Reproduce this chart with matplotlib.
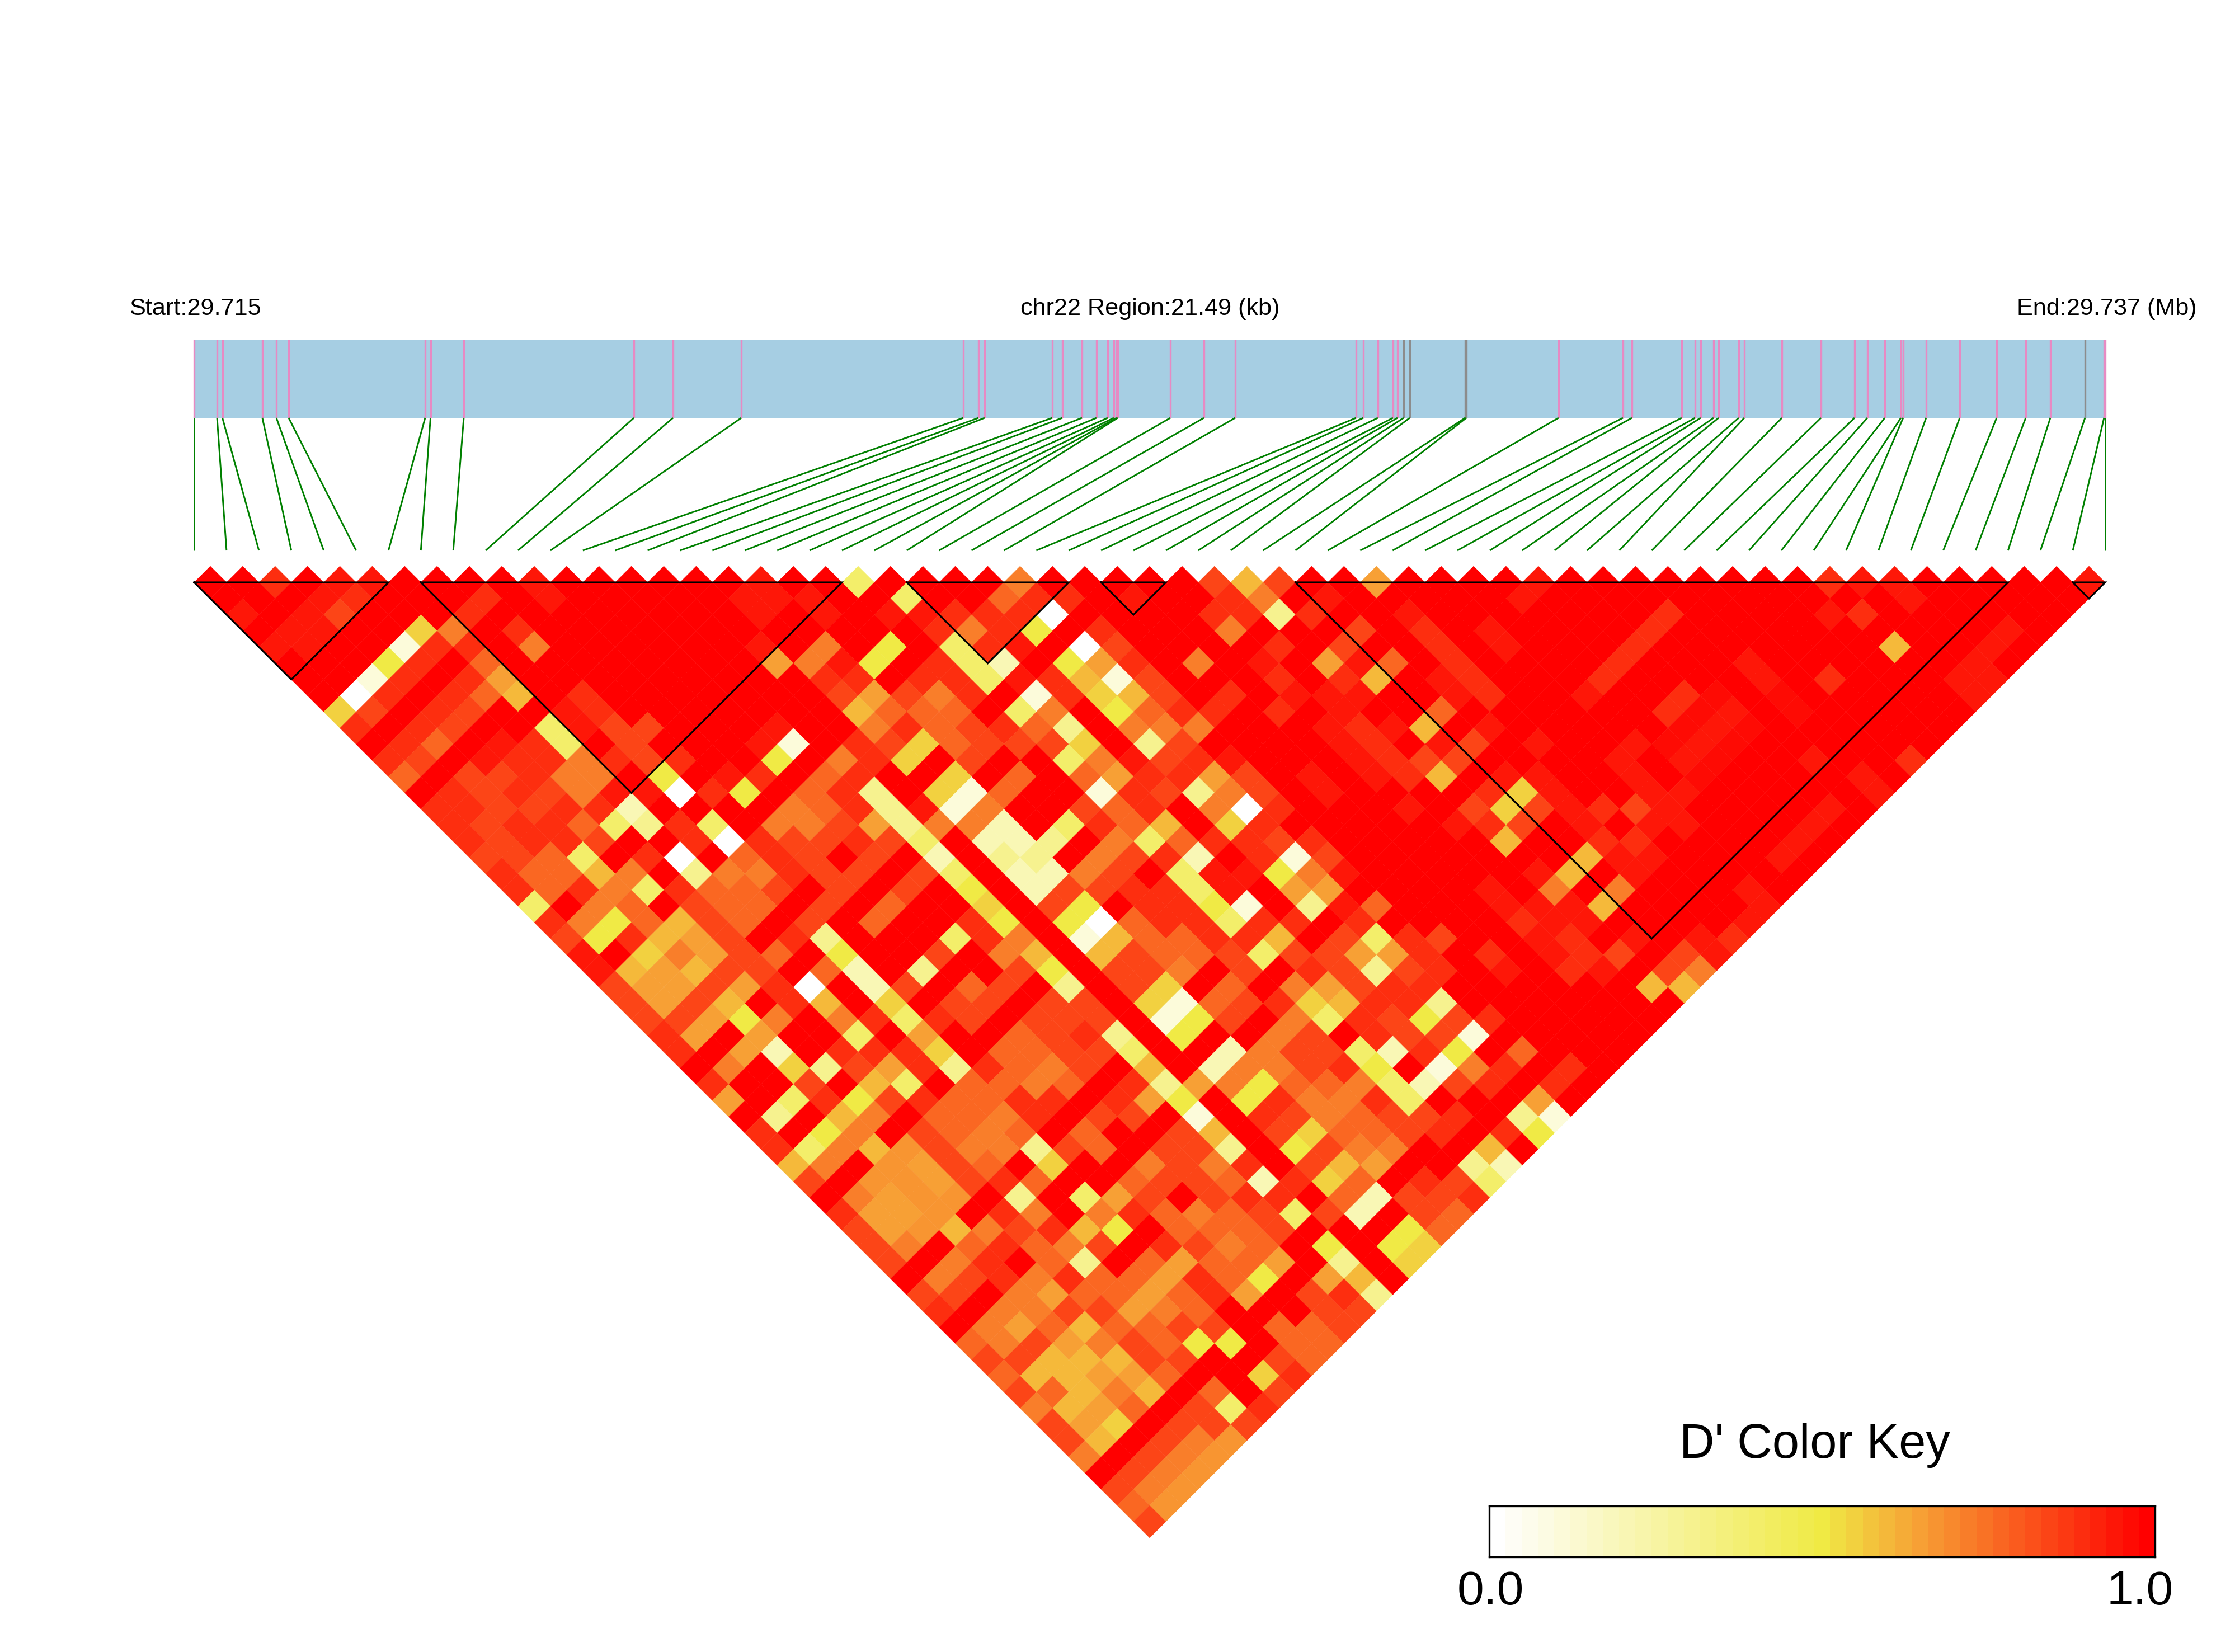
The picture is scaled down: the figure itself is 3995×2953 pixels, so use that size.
import numpy as np
import matplotlib
matplotlib.use("Agg")
import matplotlib.pyplot as plt
from matplotlib.collections import PolyCollection
from matplotlib.colors import LinearSegmentedColormap

plt.rcParams['font.family'] = ['Liberation Sans', 'DejaVu Sans']

# SNP positions, kb from region start
snp_pos_kb = [0, .258, .318, .767, .925, 1.063, 2.598, 2.658, 3.032, 4.945,
              5.385, 6.153, 8.65, 8.82, 8.889, 9.65, 9.763, 9.984, 10.147, 10.273,
              10.342, 10.374, 10.386, 10.978, 11.355, 11.707, 13.066, 13.148, 13.311, 13.481,
              13.532, 13.601, 13.67, 14.293, 14.306, 15.343, 16.067, 16.168, 16.727, 16.878,
              16.941, 17.086, 17.143, 17.369, 17.432, 17.854, 18.294, 18.671, 18.816, 19.011,
              19.193, 19.218, 19.476, 19.854, 20.269, 20.596, 20.873, 21.263, 21.477, 21.49]
region_kb = 21.49
grey_snps = [31, 32, 33, 34, 57]

# LD blocks, first and last SNP
blocks = [(0, 6), (7, 20), (22, 27), (28, 30), (34, 56), (58, 59)]

# D' per letter
dprime = {'R': 1.0, 'q': .975, 'r': .95, 'o': .9, 'n': .84, 'm': .78, 'l': .72, 'p': .68, 'k': .65,
          'j': .6, 'i': .55, 'h': .5, 'g': .4, 'f': .3, 'e': .2, 'd': .1, 'c': 0.0}

# one string per SNP distance (1, 2, ... 59), one letter per pair
d_rows = [
    "RRoRrrRRRR" "rRRRRRRrRR" "gRRRRlRRRR" "RnjnRRkRRR" "RrRRRRRRRR" "orrRRRRRr",
    "RRRroRRRoR" "rRRRRRrrrR" "RgRRmooRrR" "RolRrRRRRR" "rRRRRRRRRR" "RRrRRRRR",
    "rRrnRRRoRR" "RRRRRRrRrR" "rrooocRRRR" "oofoRRrRRR" "RRRRoRRRRr" "oRRRRRR",
    "RrrRRilRoR" "RRRRRRRRRR" "RolohRoRRR" "lRRRnRoRrR" "RRRoRRRRRR" "RRRRrR",
    "rrRRdooRlR" "RRRRRrRlRh" "RgorRcnRRR" "RoRnRRoRrR" "RRoRRRRRRR" "jRRrR",
    "RRRhoRmRRR" "RRRRRklrhR" "ogeRhkoRlR" "rRkrmRoRRR" "RoRRRrRRRR" "RRrR",
    "RRdoRokRRR" "RRRRRRooRo" "ogrojdnRRR" "oRojRroRRR" "oRRRRrRoRR" "Rrr",
    "RcoRomjRoR" "RRRRRRnknl" "oRdoijnRoR" "rrrRRroRRr" "RRoqRqRRRR" "Rr",
    "inRonRRroR" "RRRRRRjmmm" "RglRhmooRo" "RrRRmRRRRR" "RoqrRqRRRR" "R",
    "oRonRRgrnn" "RRRrRRlomn" "omfRlllRRR" "rorjRrRRRR" "RqrqRRRRRR",
    "RomRrogRnR" "RRrdRonimn" "nniRfnRRRR" "roRrnRrRRr" "qrqRRRRRR",
    "onRroolono" "RRhRloiRnR" "RglrnorRRR" "ronnRRRRrR" "rqRRrRRo",
    "mRnnollRhR" "roRmoRRiRm" "RmkooknRrR" "rojRrrRRrR" "qRRRRrR",
    "Rononlrrco" "hRmofRidmR" "RdonflnRrR" "RRRoirRRrr" "RRRRRr",
    "oonnooeRRR" "RlmofrdlRR" "nmoRlcoRRR" "rRninronrR" "RRRrR",
    "onoomgfogR" "llnkflleRg" "omjRioRRRR" "RronRrRrrR" "RRrR",
    "onoonRRoco" "nnongReefR" "lgmoonoRRR" "RRjRRooRRR" "RrR",
    "nnmgRocRmo" "nRnReRffRl" "noeRodnRRR" "RRRRjrrRRR" "rR",
    "ommjlRfllo" "nnRngReeln" "RgrrhlrRRR" "RRrjRrRRRRR",
    "omolgommnR" "nRnRhRenno" "ogrRkkRRRR" "rRlRlRRRrR",
    "gRlmRnmmRn" "RmRRiRnhRo" "ohdRfrmRRR" "rrrjRRRRr",
    "olhmjnmRnR" "mRRohRhcmo" "ogooRoRRRR" "orrRRRRr",
    "nhojknRofR" "RRgolRdjmm" "oojRngonRR" "roRrRro",
    "rRilknmRhR" "RnRljRjnmm" "ngnnkkoRoR" "ronRnr",
    "rjkjnnRmeR" "fRRnhRnnlR" "nRonfnoRrR" "orRnl",
    "nkknkocRen" "RmnRfRniRm" "RlknooRRRR" "RRjj",
    "nknjRojRiR" "nnRnnRidmn" "oijoofRRRR" "RRR",
    "nnkhlRlogo" "nRnnnRdhnR" "lgonhnoRRR" "RR",
    "okRkRRgRkR" "RmnofRhRRl" "nRonndRRRR" "R",
    "oRkeRoooiR" "mmnngRReln" "ngeohRmRRR",
    "RlRifnkofo" "mlnRjRelln" "ohRdloRoR",
    "oRRnRjgRmm" "lmRofklhmm" "lgenoRoR",
    "kRgohnommo" "oRokhRholl" "ogRRRkR",
    "RfRjlRmmlo" "RnnRdRonlm" "nnoRfd",
    "oRhlRnmlmR" "mRRnjRnimm" "noRoh",
    "ogljpnllf" "nmRnnfRhnllRRjR",
    "jlRpknmRi" "RRlnloRnjkRRfe",
    "nRppknom" "RRmnnmeoimRong",
    "RlkppRfR" "gknRnooRmenno",
    "okkpRol" "RlomlmngneRnm",
    "nkpjlno" "jhRmmmnRRRhm",
    "nlRmom" "lnRonlmRhRhi",
    "nRloRm" "fRmkmmkRfRi",
    "Rlnol" "ommkomhRkjR",
    "nnRlkmmkmo" "kRnof",
    "oRllnnklmR" "RRnn",
    "Rlkmjmmnn" "Rmmn",
    "mlnklnmh" "hRmm",
    "nnjjjnnRRnm",
    "mjjkkmRRio",
    "nmjljRmRn",
    "ljkmRngo",
    "nkiRnnn",
    "njRnlp",
    "lRnlp",
    "Rnlp",
    "nlp",
    "mp",
    "n",
]

W, H = 3995, 2953
n_snp = len(snp_pos_kb)
x0, x1 = 347, 3763
step = (x1 - x0) / (n_snp - 1)
top_y = 1041

cmap = LinearSegmentedColormap.from_list(
    "dkey", [(0, "#FFFFFF"), (.5, "#F0EA45"), (.65, "#F7A035"), (1, "#FF0000")]).resampled(41)

fig = plt.figure(figsize=(W / 300, H / 300), dpi=300)
ax = fig.add_axes([0, 0, 1, 1])
ax.set_xlim(0, W)
ax.set_ylim(H, 0)
ax.axis("off")

polys, vals = [], []
for k, row in enumerate(d_rows, start=1):
    assert len(row) == n_snp - k, (k, len(row))
    for i, code in enumerate(row):
        cx = x0 + (i + k / 2) * step
        cy = top_y + (k - 1) * step / 2
        polys.append([(cx - step / 2, cy), (cx, cy - step / 2), (cx + step / 2, cy), (cx, cy + step / 2)])
        vals.append(dprime[code])
pc = PolyCollection(polys, array=np.array(vals), cmap=cmap, clim=(0, 1), edgecolors="face", linewidths=0.1)
ax.add_collection(pc)

# blocks
for a, b in blocks:
    xa = x0 + a * step
    xb = x0 + b * step
    ax.plot([xa, xb, (xa + xb) / 2, xa], [top_y, top_y, top_y + (b - a) * step / 2, top_y],
            color="black", lw=0.75, solid_joinstyle="miter", zorder=3)

# gene bar and SNP links
bar_top, bar_bot, link_bot = 607, 747, 984
ax.fill_between([x0, x1], bar_top, bar_bot, color="#A6CEE3", lw=0)
for i, p in enumerate(snp_pos_kb):
    xp = x0 + p / region_kb * (x1 - x0)
    col = "#8C8C8C" if i in grey_snps else "#E78AC3"
    ax.plot([xp, xp], [bar_top, bar_bot], color=col, lw=0.8, solid_capstyle="butt")
    ax.plot([xp, x0 + i * step], [bar_bot, link_bot], color="#008000", lw=0.7, solid_capstyle="butt")

ax.text(231, 563, "Start:29.715", fontsize=10.4, ha="left", va="baseline")
ax.text(2056, 563, "chr22 Region:21.49 (kb)", fontsize=10.4, ha="center", va="baseline")
ax.text(3927, 563, "End:29.737 (Mb)", fontsize=10.4, ha="right", va="baseline")

# colour key
ax.text(3244, 2606, "D' Color Key", fontsize=20.8, ha="center", va="baseline")
ax.text(2664, 2868, "0.0", fontsize=20.6, ha="center", va="baseline")
ax.text(3825, 2868, "1.0", fontsize=20.6, ha="center", va="baseline")
kx0, kx1, ky0, ky1 = 2662, 3852, 2692, 2783
cax = fig.add_axes([kx0 / W, 1 - ky1 / H, (kx1 - kx0) / W, (ky1 - ky0) / H])
cax.imshow(np.linspace(0, 1, 41)[None, :], cmap=cmap, vmin=0, vmax=1, aspect="auto", interpolation="nearest")
cax.set_xticks([])
cax.set_yticks([])
for s in cax.spines.values():
    s.set_linewidth(0.8)

plt.savefig("out.png", dpi=300)
